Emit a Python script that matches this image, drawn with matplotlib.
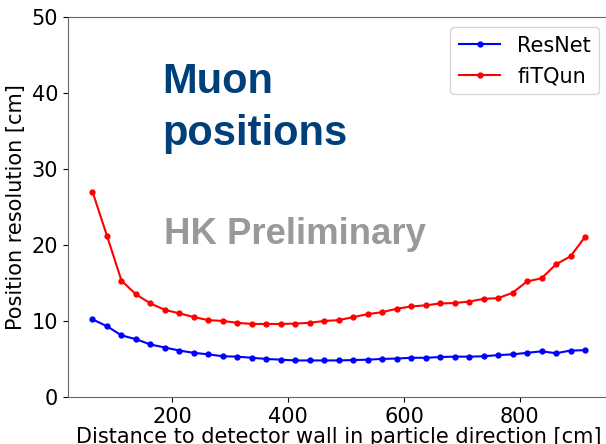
import numpy as np
from matplotlib import pyplot as plt

# bin centres of the wall distance, 25 cm bins
dwall = np.arange(62.5, 925, 25)

resnet = [10.2, 9.3, 8.1, 7.6, 6.9, 6.5, 6.1, 5.8, 5.6, 5.35,
          5.3, 5.15, 5.0, 4.9, 4.8, 4.8, 4.8, 4.8, 4.85, 4.9,
          5.0, 5.05, 5.15, 5.15, 5.25, 5.3, 5.3, 5.35, 5.5, 5.6,
          5.8, 6.0, 5.75, 6.1, 6.15]
fitqun = [27.0, 21.2, 15.3, 13.5, 12.3, 11.45, 11.0, 10.5, 10.1, 10.0,
          9.75, 9.6, 9.6, 9.6, 9.65, 9.75, 10.0, 10.1, 10.5, 10.9,
          11.15, 11.6, 11.9, 12.05, 12.3, 12.35, 12.55, 12.9, 13.0, 13.7,
          15.2, 15.6, 17.45, 18.5, 21.05]

fig = plt.figure(figsize=(6.06, 4.44), dpi=100)
ax = fig.add_axes([0.112, 0.106, 0.894, 0.856])

ax.plot(dwall, resnet, color='blue', marker='o', markersize=3.5, linewidth=1.5, label='ResNet')
ax.plot(dwall, fitqun, color='red', marker='o', markersize=3.5, linewidth=1.5, label='fiTQun')

ax.set_ylim(0, 50)
ax.set_xticks([200, 400, 600, 800])
ax.set_xlabel('Distance to detector wall in particle direction [cm]', fontsize=15, labelpad=0)
ax.set_ylabel('Position resolution [cm]', fontsize=15, labelpad=4)
ax.tick_params(labelsize=15)
for spine in ax.spines.values():
    spine.set_color('#666666')

ax.legend(loc='upper right', fontsize=15)

ax.text(0.175, 0.663, 'Muon\npositions', transform=ax.transAxes, fontsize=30,
        fontweight='bold', color='#003f7a', family='Liberation Sans',
        va='baseline', linespacing=1.38)
ax.text(0.178, 0.402, 'HK Preliminary', transform=ax.transAxes, fontsize=26.3,
        fontweight='bold', color='#999999', family='Liberation Sans', va='baseline')

fig.savefig('out.png', dpi=100)
